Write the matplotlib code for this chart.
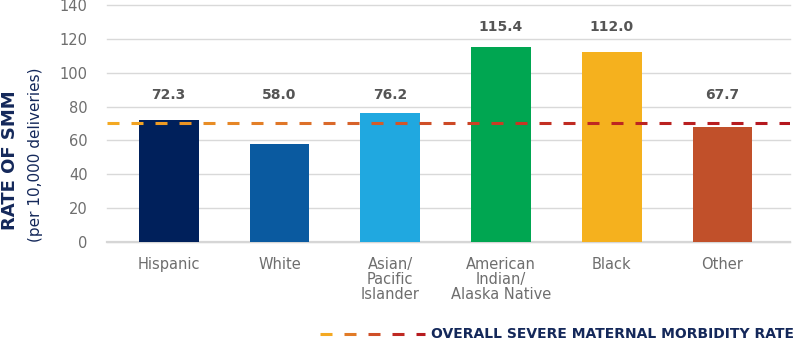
import numpy as np
import matplotlib.pyplot as plt
from matplotlib.collections import LineCollection
from matplotlib.colors import LinearSegmentedColormap

# data
groups = ['Hispanic', 'White', 'Asian/\nPacific\nIslander',
          'American\nIndian/\nAlaska Native', 'Black', 'Other']
rates = [72.3, 58.0, 76.2, 115.4, 112.0, 67.7]
overall_rate = 70.4
yticks = [0, 20, 40, 60, 80, 100, 120, 140]

bar_colors = ['#00205B', '#0A5AA0', '#20A8E0', '#00A651', '#F5B11E', '#C1502A']
navy = '#14285A'
gray = '#6E6E6E'
dash_cmap = LinearSegmentedColormap.from_list(
    'smm', ['#F4A922', '#D8652A', '#C02A22', '#B3161E'])


def gradient_dashes(artist_parent, x0, x1, y, transform, dash, gap, lw=2.2):
    starts = np.arange(x0, x1, dash + gap)
    segs = [[(s, y), (min(s + dash, x1), y)] for s in starts]
    colors = dash_cmap((starts - x0) / (x1 - x0))
    lc = LineCollection(segs, colors=colors, linewidths=lw,
                        transform=transform, capstyle='butt', zorder=4)
    if hasattr(artist_parent, 'transFigure'):
        artist_parent.add_artist(lc)
    else:
        artist_parent.add_collection(lc)
    return lc


def createPlot(fig, ax):
    x = np.arange(len(groups))
    ax.bar(x, rates, width=0.54, color=bar_colors, zorder=3)

    # value labels sit in two rows above the bars
    for xi, v in zip(x, rates):
        ly = 127.2 if v >= 100 else 87.0
        ax.text(xi, ly, '{:.1f}'.format(v), ha='center', va='center',
                fontsize=10, fontweight='bold', color='#555555')

    ax.set_xlim(-0.555, len(groups) - 1 + 0.61)
    ax.set_ylim(0, 140)
    ax.set_yticks(yticks)
    ax.set_xticks(x)
    ax.set_xticklabels(groups, linespacing=1.0)
    ax.tick_params(axis='both', length=0, labelsize=10.5, labelcolor=gray)
    ax.tick_params(axis='y', pad=14)
    ax.tick_params(axis='x', pad=11)
    ax.grid(axis='y', color='#D9D9D9', lw=1.0, zorder=0)
    for gl in ax.get_ygridlines():
        gl.set_clip_on(False)
    ax.axhline(0, color='#D6D6D6', lw=1.6, zorder=1, clip_on=False)
    ax.set_axisbelow(True)
    for s in ax.spines.values():
        s.set_visible(False)

    # overall rate: dashed line with orange -> red gradient
    ax_px = fig.get_figwidth() * fig.dpi * (ax.get_position().x1 - ax.get_position().x0)
    gradient_dashes(ax, 0, 1, overall_rate, ax.get_yaxis_transform(),
                    dash=12 / ax_px, gap=12 / ax_px)

    # axis titles
    fig.text(0.012, 0.531, 'RATE OF SMM', rotation=90, ha='center', va='center',
             fontsize=13, fontweight='bold', color=navy)
    fig.text(0.044, 0.545, '(per 10,000 deliveries)', rotation=90, ha='center',
             va='center', fontsize=11, color=navy)

    # legend
    fw = fig.get_figwidth() * fig.dpi
    gradient_dashes(fig, 320 / fw, 425 / fw, 0.0205, fig.transFigure,
                    dash=12 / fw, gap=12 / fw)
    fig.text(431 / fw, 0.0205, 'OVERALL SEVERE MATERNAL MORBIDITY RATE',
             ha='left', va='center', fontsize=10, fontweight='bold', color=navy)


if __name__ == '__main__':
    fig = plt.figure(figsize=(8, 3.41), dpi=100)
    ax = fig.add_axes([0.134, 0.291, 0.8535, 0.694])
    createPlot(fig, ax)
    plt.savefig('out.png', dpi=100)
